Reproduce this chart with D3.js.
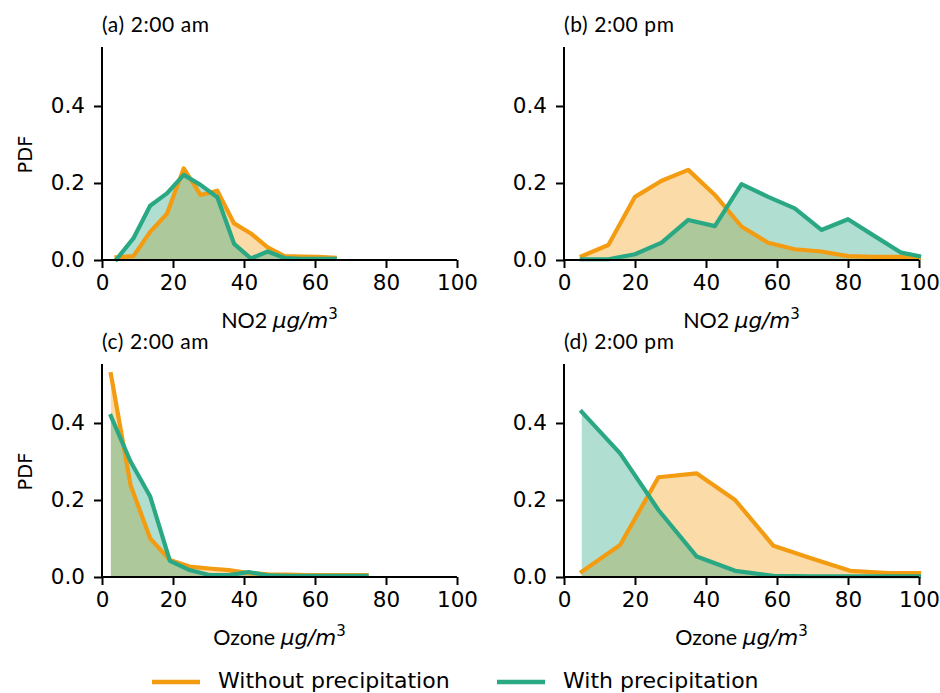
<!DOCTYPE html>
<html>
<head>
<meta charset="utf-8">
<script src="https://cdn.jsdelivr.net/npm/d3@7"></script>
<style>
  html, body { margin: 0; padding: 0; background: #fff; }
  svg { display: block; }
</style>
</head>
<body>
<svg id="chart" width="940" height="693"></svg>
<script>
// ---------- data ----------
const seriesNames = ["Without precipitation", "With precipitation"];
const yTicks = [0.0, 0.2, 0.4];
const xTicks = [0, 20, 40, 60, 80, 100];

const no2AmX = [4.1, 8.83, 13.56, 18.29, 23.02, 27.75, 32.48, 37.21, 41.94, 46.67, 51.4, 56.13, 60.86, 65.59];
const no2AmWithout = [0.007, 0.010, 0.073, 0.120, 0.238, 0.169, 0.180, 0.095, 0.069, 0.033, 0.010, 0.009, 0.008, 0.006];
const no2AmWith = [0.002, 0.056, 0.141, 0.173, 0.221, 0.195, 0.163, 0.042, 0.004, 0.022, 0.005, 0.003, 0.003, 0.003];

const no2PmX = [5, 12.5, 20, 27.5, 35, 42.5, 50, 57.5, 65, 72.5, 80, 87.5, 95, 100];
const no2PmWithout = [0.010, 0.039, 0.164, 0.206, 0.234, 0.169, 0.087, 0.045, 0.028, 0.022, 0.010, 0.008, 0.008, 0.006];
const no2PmWith = [0.002, 0.002, 0.015, 0.045, 0.104, 0.088, 0.197, 0.164, 0.134, 0.078, 0.106, 0.062, 0.019, 0.010];

const o3AmX = [2.5, 8.04, 13.58, 19.12, 24.66, 30.2, 35.74, 41.28, 46.82, 52.36, 57.9, 63.44, 68.98, 74.52];
const o3AmWithout = [0.527, 0.239, 0.100, 0.044, 0.027, 0.022, 0.018, 0.010, 0.007, 0.006, 0.005, 0.005, 0.005, 0.005];
const o3AmWith = [0.418, 0.300, 0.209, 0.042, 0.018, 0.005, 0.005, 0.013, 0.004, 0.003, 0.003, 0.003, 0.003, 0.003];

const o3PmX = [5, 15.8, 26.6, 37.4, 48.2, 59, 69.8, 80.6, 91.4, 100];
const o3PmWithout = [0.014, 0.083, 0.259, 0.269, 0.200, 0.081, 0.048, 0.016, 0.010, 0.010];
const o3PmWith = [0.429, 0.321, 0.174, 0.053, 0.016, 0.003, 0.002, 0.002, 0.002, 0.002];

const panelTitles = ["(a) 2:00 am", "(b) 2:00 pm", "(c) 2:00 am", "(d) 2:00 pm"];
const panelPollutant = ["NO2", "NO2", "Ozone", "Ozone"];

// ---------- style ----------
const cOrange = "#f39c12";
const cGreen = "#2aa884";
const fillAlpha = 0.37;
const tickFont = "'DejaVu Sans', sans-serif";
const titleFont = "Lato, 'Open Sans', sans-serif";

const svg = d3.select("#chart");

const panels = [
  { x0: 102, x1: 457, yT: 47, yB: 260, xs: no2AmX, a: no2AmWithout, b: no2AmWith, pdf: true },
  { x0: 564, x1: 919, yT: 47, yB: 260, xs: no2PmX, a: no2PmWithout, b: no2PmWith, pdf: false },
  { x0: 102, x1: 457, yT: 364, yB: 577, xs: o3AmX, a: o3AmWithout, b: o3AmWith, pdf: true },
  { x0: 564, x1: 919, yT: 364, yB: 577, xs: o3PmX, a: o3PmWithout, b: o3PmWith, pdf: false }
];

panels.forEach((p, i) => {
  const x = d3.scaleLinear().domain([0, 100]).range([p.x0, p.x1]);
  const y = d3.scaleLinear().domain([0, 0.5532]).range([p.yB, p.yT]);
  const g = svg.append("g");

  const series = [
    { vals: p.a, color: cOrange },
    { vals: p.b, color: cGreen }
  ];

  const area = d3.area().x(d => x(d[0])).y0(y(0)).y1(d => y(d[1]));
  const line = d3.line().x(d => x(d[0])).y(d => y(d[1]));

  series.forEach(s => {
    const pts = p.xs.map((xv, k) => [xv, s.vals[k]]);
    g.append("path").attr("d", area(pts))
      .attr("fill", s.color).attr("fill-opacity", fillAlpha).attr("stroke", "none");
  });
  series.forEach(s => {
    const pts = p.xs.map((xv, k) => [xv, s.vals[k]]);
    g.append("path").attr("d", line(pts))
      .attr("fill", "none").attr("stroke", s.color)
      .attr("stroke-width", 4.2).attr("stroke-linejoin", "round").attr("stroke-linecap", "square");
  });

  // axes
  const xAxis = d3.axisBottom(x).tickValues(xTicks).tickSize(8).tickPadding(7).tickFormat(d3.format("d"));
  const yAxis = d3.axisLeft(y).tickValues(yTicks).tickSize(8).tickPadding(9).tickFormat(d3.format(".1f"));

  const gx = g.append("g").attr("transform", `translate(0,${p.yB})`).call(xAxis);
  const gy = g.append("g").attr("transform", `translate(${p.x0},0)`).call(yAxis);
  [gx, gy].forEach(ax => {
    ax.select(".domain").attr("stroke", "#000").attr("stroke-width", 2);
    ax.selectAll(".tick line").attr("stroke", "#000").attr("stroke-width", 2);
    ax.selectAll(".tick text").attr("fill", "#000")
      .style("font-family", tickFont).style("font-size", "21.5px");
  });
  gx.select(".domain").attr("d", `M${p.x0},0H${p.x1}`);
  gy.select(".domain").attr("d", `M0,${p.yT}V${p.yB}`);
  gx.selectAll(".tick text").attr("dy", "0.72em");

  // title
  g.append("text").attr("x", p.x0).attr("y", p.yT - 15)
    .style("font-family", titleFont).style("font-size", "21px").style("letter-spacing", "0.6px")
    .attr("fill", "#000").text(panelTitles[i]);

  // x label
  const xl = g.append("text").attr("x", (p.x0 + p.x1) / 2).attr("y", p.yB + 68)
    .attr("text-anchor", "middle").attr("fill", "#000");
  xl.append("tspan").style("font-family", titleFont).style("font-size", "21.5px").text(panelPollutant[i] + " ");
  xl.append("tspan").style("font-family", tickFont).style("font-style", "italic").style("font-size", "21.5px").text("μg/m");
  xl.append("tspan").style("font-family", tickFont).style("font-size", "15px").attr("dy", "-9").text("3");

  if (p.pdf) {
    g.append("text")
      .attr("transform", `translate(32,${(p.yT + p.yB) / 2 + 1}) rotate(-90)`)
      .attr("text-anchor", "middle").attr("fill", "#000")
      .style("font-family", tickFont).style("font-size", "19.5px").text("PDF");
  }
});

// legend
const legend = svg.append("g");
const legItems = [
  { name: seriesNames[0], color: cOrange, x: 152 },
  { name: seriesNames[1], color: cGreen, x: 497 }
];
legItems.forEach(it => {
  legend.append("line").attr("x1", it.x).attr("x2", it.x + 48).attr("y1", 682).attr("y2", 682)
    .attr("stroke", it.color).attr("stroke-width", 4.5);
  legend.append("text").attr("x", it.x + 66).attr("y", 688)
    .style("font-family", tickFont).style("font-size", "22px").attr("fill", "#000").text(it.name);
});
</script>
</body>
</html>
